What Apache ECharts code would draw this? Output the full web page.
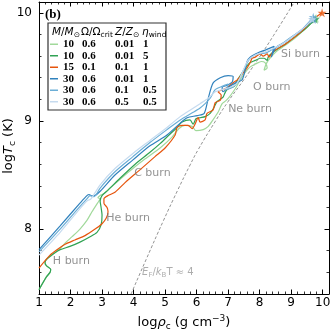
<!DOCTYPE html>
<html><head><meta charset="utf-8">
<script src="https://cdn.jsdelivr.net/npm/echarts@6.0.0/dist/echarts.min.js"></script>
<style>html,body{margin:0;padding:0;background:#fff}#c{width:332px;height:332px}</style>
</head><body><div id="c"></div>
<script>
// ---- data (log rho_c, log T_c) ----
const lg10X = [1.00,1.24,1.35,1.37,1.24,1.19,1.24,1.45,1.67,1.86,2.05,2.30,2.52,2.68,2.81,2.90,2.94,2.87,2.94,3.06,3.41,3.89,4.37,4.84,5.22,5.44,5.63,5.86,5.98,6.21,6.37,6.52,6.68,6.81,6.94,7.06,7.16,7.25,7.38,7.54,7.70,7.89,8.05,8.17,8.24,8.14,8.21,8.33,8.52,8.81,9.13,9.44,9.79];
const lg10Y = [7.44,7.56,7.60,7.63,7.66,7.69,7.72,7.77,7.82,7.88,7.93,8.00,8.08,8.16,8.22,8.26,8.28,8.29,8.31,8.33,8.42,8.54,8.65,8.75,8.85,8.93,8.96,8.95,8.91,8.92,8.95,9.01,9.08,9.16,9.19,9.23,9.27,9.31,9.38,9.45,9.50,9.53,9.55,9.54,9.49,9.47,9.53,9.58,9.64,9.70,9.77,9.85,9.95];
const g10X = [1.00,1.24,1.35,1.37,1.24,1.19,1.24,1.45,1.67,1.98,2.30,2.62,2.84,2.97,3.00,2.97,2.94,3.00,3.19,3.57,4.05,4.52,4.84,5.16,5.38,5.54,5.79,5.89,5.98,6.11,6.27,6.43,6.56,6.65,6.75,6.84,6.90,6.97,7.10,7.19,7.32,7.48,7.60,7.70,7.86,8.02,8.14,8.24,8.27,8.40,8.59,8.81,9.13,9.44,9.76];
const g10Y = [7.44,7.56,7.60,7.63,7.66,7.69,7.72,7.77,7.81,7.84,7.88,7.93,7.97,8.04,8.13,8.20,8.26,8.31,8.36,8.47,8.60,8.71,8.79,8.88,8.94,8.99,9.01,8.97,9.02,9.03,9.04,9.07,9.13,9.18,9.20,9.22,9.26,9.29,9.31,9.32,9.39,9.46,9.51,9.54,9.56,9.58,9.58,9.56,9.59,9.63,9.67,9.71,9.78,9.85,9.94];
const o15X = [1.00,1.35,1.67,1.83,2.14,2.46,2.78,3.00,3.13,3.19,3.16,3.06,3.06,3.19,3.41,3.73,4.21,4.68,5.00,5.32,5.38,5.54,5.73,5.86,5.95,6.05,6.11,6.27,6.33,6.52,6.59,6.75,6.78,6.68,6.84,6.97,7.06,7.19,7.29,7.44,7.60,7.70,7.76,7.86,8.02,8.11,8.24,8.30,8.40,8.52,8.81,9.13,9.44,9.70,9.98];
const o15Y = [7.64,7.76,7.83,7.86,7.90,7.94,8.00,8.05,8.10,8.16,8.20,8.24,8.28,8.31,8.34,8.43,8.55,8.67,8.75,8.87,8.94,8.96,8.96,8.93,8.97,9.03,8.99,9.01,9.07,9.10,9.17,9.19,9.24,9.27,9.29,9.31,9.33,9.36,9.38,9.43,9.49,9.54,9.58,9.59,9.62,9.60,9.62,9.59,9.63,9.66,9.71,9.78,9.86,9.94,10.00];
const b30aX = [1.00,1.67,2.30,2.52,2.59,2.65,2.75,2.94,3.41,3.98,4.52,5.06,5.48,5.70,6.02,6.24,6.37,6.52,6.75,7.00,7.16,7.13,6.97,6.81,6.84,7.00,7.22,7.44,7.54,7.60,7.70,7.95,8.21,8.46,8.37,8.52,8.81,9.13,9.44,9.70];
const b30aY = [7.81,8.03,8.24,8.31,8.32,8.31,8.31,8.35,8.50,8.64,8.77,8.87,8.98,9.03,9.05,9.07,9.21,9.35,9.40,9.42,9.41,9.36,9.33,9.31,9.27,9.31,9.35,9.38,9.47,9.55,9.59,9.63,9.66,9.69,9.59,9.68,9.73,9.80,9.87,9.94];
const b30bX = [1.00,1.67,2.30,2.52,2.62,2.75,2.94,3.41,3.98,4.52,5.06,5.48,5.89,6.11,6.27,6.43,6.59,6.81,7.00,6.94,7.13,7.32,7.44,7.57,7.70,7.95,8.21,8.40,8.65,8.97,9.29,9.70];
const b30bY = [7.79,8.00,8.21,8.28,8.31,8.30,8.38,8.53,8.67,8.80,8.92,9.01,9.08,9.12,9.16,9.21,9.29,9.32,9.34,9.29,9.31,9.36,9.44,9.52,9.58,9.62,9.63,9.66,9.70,9.77,9.83,9.96];
const b30cX = [1.00,1.67,2.30,2.52,2.65,2.94,3.41,3.98,4.52,5.06,5.48,5.79,6.11,6.37,6.59,6.81,7.06,7.25,7.38,7.51,7.63,7.86,8.17,8.49,8.81,9.13,9.44,9.67];
const b30cY = [7.76,7.97,8.19,8.26,8.28,8.41,8.56,8.70,8.82,8.94,9.04,9.10,9.16,9.21,9.27,9.29,9.31,9.34,9.40,9.49,9.56,9.61,9.64,9.68,9.73,9.80,9.87,9.94];
// degeneracy line E_F/k_B T ~ 4
const efX = [3.92,4.40,4.95,5.40,5.77,6.06,6.60,7.00,7.47,7.90,8.44,9.10];
const efY = [7.40,7.72,8.08,8.36,8.58,8.74,9.00,9.18,9.37,9.55,9.79,10.10];
// legend table
const legMass  = ['10','10','15','30','30','30'];
const legOmega = ['0.6','0.6','0.1','0.6','0.6','0.6'];
const legZ     = ['0.01','0.01','0.1','0.01','0.1','0.5'];
const legEta   = ['1','5','1','1','0.5','0.5'];
// annotations
const burnText = ['H burn','He burn','C burn','Ne burn','O burn','Si burn'];
const burnX = [1.44,3.13,4.02,7.00,7.79,8.68];
const burnY = [7.70,8.10,8.52,9.11,9.31,9.62];
const efLabelX = [4.27], efLabelY = [7.60];
// ticks
const xMajor = [1,2,3,4,5,6,7,8,9,10];
const yMajor = [8,9,10];

const tracks = [
  {name:'t0', color:'#a1d99b', x:lg10X, y:lg10Y},
  {name:'t1', color:'#31a354', x:g10X,  y:g10Y},
  {name:'t2', color:'#e6550d', x:o15X,  y:o15Y},
  {name:'t3', color:'#3182bd', x:b30aX, y:b30aY},
  {name:'t4', color:'#6baed6', x:b30bX, y:b30bY},
  {name:'t5', color:'#c6dbef', x:b30cX, y:b30cY}
];
const pts = (xs, ys) => xs.map((v, i) => [v, ys[i]]);
const FONT = 'DejaVu Sans';
const STAR = 'path://M50,0 L61,35 L98,35 L68,57 L79,91 L50,70 L21,91 L32,57 L2,35 L39,35 Z';

const gridPos = {left:39, right:3, top:2, bottom:38, containLabel:false, outerBoundsMode:'none'};
function majorX(pos, labels){
  return {type:'value', gridIndex:0, min:1, max:10.2, position:pos,
    axisLine:{show:true, onZero:false, lineStyle:{color:'#000', width:1}},
    axisTick:{show:true, inside:true, length:4.5, customValues:xMajor, lineStyle:{color:'#000', width:1}},
    axisLabel:{show:labels, customValues:xMajor, margin:3, fontSize:12, color:'#000', fontFamily:FONT},
    splitLine:{show:false}};
}
function minorX(pos){
  return {type:'value', gridIndex:1, min:1, max:10.2, interval:0.2, position:pos,
    axisLine:{show:false}, axisLabel:{show:false}, splitLine:{show:false},
    axisTick:{show:true, inside:true, length:2.5, lineStyle:{color:'#000', width:0.8}}};
}
function majorY(pos, labels){
  return {type:'value', gridIndex:0, min:7.4, max:10.1, position:pos,
    axisLine:{show:true, onZero:false, lineStyle:{color:'#000', width:1}},
    axisTick:{show:true, inside:true, length:4.5, customValues:yMajor, lineStyle:{color:'#000', width:1}},
    axisLabel:{show:labels, customValues:yMajor, margin:7, fontSize:12, color:'#000', fontFamily:FONT},
    splitLine:{show:false}};
}
function minorY(pos){
  return {type:'value', gridIndex:1, min:7.4, max:10.1, interval:0.2, position:pos,
    axisLine:{show:false}, axisLabel:{show:false}, splitLine:{show:false},
    axisTick:{show:true, inside:true, length:2.5, lineStyle:{color:'#000', width:0.8}}};
}
const subR = {fontSize:9, lineHeight:9, verticalAlign:'bottom', fontFamily:FONT, color:'#000'};
const supR = {fontSize:9, lineHeight:9, verticalAlign:'top', fontFamily:FONT, color:'#000'};
const itR  = {fontSize:13, lineHeight:17, fontStyle:'italic', fontFamily:FONT, color:'#000'};

const xb = majorX('bottom', true);
xb.name = 'log{i|ρ}{s|c} (g cm{p|−3})';
xb.nameLocation = 'middle'; xb.nameGap = 18;
xb.nameTextStyle = {fontSize:13, lineHeight:17, fontFamily:FONT, color:'#000', rich:{i:itR, s:subR, p:supR}};
const yl = majorY('left', true);

const series = tracks.map(t => ({
  name:t.name, type:'line', xAxisIndex:0, yAxisIndex:0, data:pts(t.x, t.y),
  showSymbol:false, symbol:'none', smooth:0.25, z:2,
  lineStyle:{color:t.color, width:1.2}, itemStyle:{color:t.color}
}));
series.push({
  type:'line', xAxisIndex:0, yAxisIndex:0, data:pts(efX, efY), symbol:'none', smooth:true, z:1,
  lineStyle:{color:'#777', width:0.8, type:[3,2]}
});
series.push({
  type:'scatter', xAxisIndex:0, yAxisIndex:0, z:4, symbol:STAR, symbolSize:9,
  data: tracks.map(t => ({value:[t.x[t.x.length-1], t.y[t.y.length-1]], itemStyle:{color:t.color}}))
});
series.push({
  type:'scatter', xAxisIndex:0, yAxisIndex:0, z:5, symbolSize:0, silent:true,
  data: burnText.map((s, i) => ({name:s, value:[burnX[i], burnY[i]]})),
  label:{show:true, position:'right', distance:0, formatter:'{b}', color:'#777', fontSize:11, fontFamily:FONT}
});
series.push({
  type:'scatter', xAxisIndex:0, yAxisIndex:0, z:5, symbolSize:0, silent:true,
  data: [{value:[efLabelX[0], efLabelY[0]]}],
  label:{show:true, position:'right', distance:0, formatter:'{i|E}{s|F}/{i|k}{s|B}T ≈ 4', color:'#999', fontSize:10, fontFamily:FONT, lineHeight:13,
    rich:{i:{fontStyle:'italic', fontSize:10, lineHeight:13, color:'#999', fontFamily:FONT}, s:{fontSize:7, lineHeight:7, verticalAlign:'bottom', color:'#999', fontFamily:FONT}}}
});

const names = tracks.map(t => t.name);
const serifB = {fontFamily:'Liberation Serif', fontWeight:'bold', fontSize:11, color:'#000'};
const hdr = {fontSize:10.5, fontFamily:FONT, color:'#000'};
const hdrRich = {i:Object.assign({}, hdr, {fontStyle:'italic', lineHeight:14}), s:{fontSize:7.5, lineHeight:8, verticalAlign:'bottom', fontFamily:FONT, color:'#000'}};
function hdrText(x, txt){
  return {type:'text', x:x, y:32, z:10, style:Object.assign({text:txt, verticalAlign:'middle', align:'left', lineHeight:14, rich:hdrRich}, hdr)};
}

const option = {
  animation:false,
  backgroundColor:'#fff',
  grid:[Object.assign({}, gridPos), Object.assign({}, gridPos)],
  xAxis:[xb, majorX('top', false), minorX('bottom'), minorX('top')],
  yAxis:[yl, majorY('right', false), minorY('left'), minorY('right')],
  legend:{
    data:names, orient:'vertical', left:50, top:38.5, padding:0, itemGap:0,
    itemWidth:8, itemHeight:1.5, icon:'rect', selectedMode:false, z:10,
    formatter: n => { const i = names.indexOf(n); return '{m|' + legMass[i] + '}{o|' + legOmega[i] + '}{z|' + legZ[i] + '}{e|' + legEta[i] + '}'; },
    textStyle:Object.assign({lineHeight:11.5, rich:{
      m:Object.assign({width:19, lineHeight:11.5}, serifB),
      o:Object.assign({width:33, lineHeight:11.5}, serifB),
      z:Object.assign({width:28, lineHeight:11.5}, serifB),
      e:Object.assign({lineHeight:11.5}, serifB)}}, serifB)
  },
  graphic:[
    {type:'rect', z:9, shape:{x:48, y:23, width:118, height:87}, style:{fill:'#fff', stroke:'#333', lineWidth:1.2}},
    hdrText(52, '{i|M}/{i|M}{s|⊙}'),
    hdrText(81, 'Ω/Ω{s|crit}'),
    hdrText(115, '{i|Z}/{i|Z}{s|⊙}'),
    hdrText(142, '{i|η}{s|wind}'),
    {type:'text', x:45, y:15, z:10, style:{text:'(b)', fontFamily:'Liberation Serif', fontWeight:'bold', fontSize:13, fill:'#000', verticalAlign:'middle', align:'left'}},
    {type:'text', x:9, y:146, rotation:Math.PI/2, z:10, style:{text:'log{i|T}{s|c} (K)', fontSize:13, lineHeight:17, fontFamily:FONT, fill:'#000', align:'center', verticalAlign:'middle', rich:{i:itR, s:subR}}}
  ],
  series:series
};
const chart = echarts.init(document.getElementById('c'), null, {renderer:'canvas'});
chart.setOption(option);
</script></body></html>
